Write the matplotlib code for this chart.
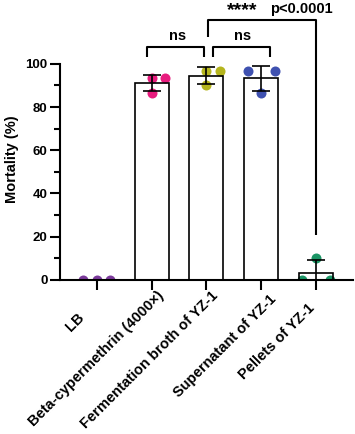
import numpy as np
import matplotlib
matplotlib.use('Agg')
import matplotlib.pyplot as plt
from matplotlib.transforms import ScaledTranslation

plt.rcParams['font.family'] = ['Liberation Sans', 'DejaVu Sans']
plt.rcParams['font.weight'] = 'bold'

# data
groups = ['LB', 'Beta-cypermethrin (4000×)', 'Fermentation broth of YZ-1',
          'Supernatant of YZ-1', 'Pellets of YZ-1']
reps = [[0, 0, 0],
        [93.3, 93.3, 86.7],
        [96.7, 96.7, 90.0],
        [96.7, 96.7, 86.7],
        [10.0, 0, 0]]
dot_colors = ['#7B3A9A', '#E81C7E', '#B5B51E', '#3F51B0', '#1B9565']

# horizontal spread of replicate dots (layout only)
spread = [[-0.25, 0, 0.25], [0, 0.25, 0], [0, 0.25, 0], [-0.25, 0.25, 0], [0, -0.25, 0.25]]
# per-label nudge of the rotated tick labels, in points
label_nudge = [(-14, -13), (3.5, 2.5), (3.5, 2.5), (5.5, 0), (-6, -6)]

means = [np.mean(r) for r in reps]
sds = [np.std(r, ddof=1) for r in reps]
x = np.arange(len(groups))

fig = plt.figure(figsize=(3.55, 4.34), dpi=100)
ax = fig.add_axes([0.169, 0.355, 0.825, 0.498])

for i in x:
    ax.scatter(np.array(spread[i]) + i, reps[i], s=52, color=dot_colors[i],
               zorder=2, linewidths=0)
ax.bar(x, means, width=0.62, facecolor='none', edgecolor='black', linewidth=1.2, zorder=3)
for i in x[1:]:
    ax.errorbar(i, means[i], yerr=sds[i], fmt='none', ecolor='black', elinewidth=1.2,
                capsize=6.5, capthick=1.2, zorder=4)

ax.set_xlim(-0.67, 4.67)
ax.set_ylim(0, 100)
ax.set_yticks(np.arange(0, 101, 20))
ax.set_yticks(np.arange(10, 100, 20), minor=True)
ax.spines['top'].set_visible(False)
ax.spines['right'].set_visible(False)
ax.spines['left'].set_linewidth(1.5)
ax.spines['bottom'].set_linewidth(1.5)
ax.tick_params(axis='both', which='major', length=7, width=1.5, labelsize=9.5, pad=2)
ax.tick_params(axis='y', which='minor', length=4, width=1.5)
ax.set_ylabel('Mortality (%)', fontsize=10.5, fontweight='bold')
ax.yaxis.set_label_coords(-0.14, 0.56)

ax.set_xticks(x)
ax.set_xticklabels(groups, rotation=45, ha='right', va='top', rotation_mode='anchor',
                   fontsize=10.5, fontweight='bold')
for lab, (dx, dy) in zip(ax.get_xticklabels(), label_nudge):
    lab.set_transform(lab.get_transform() + ScaledTranslation(dx / 72, dy / 72, fig.dpi_scale_trans))

# significance brackets
kw = dict(color='black', linewidth=1.5, clip_on=False, solid_capstyle='butt')
ax.plot([0.918, 0.918, 1.959, 1.959], [103.2, 107.9, 107.9, 103.2], **kw)
ax.plot([2.124, 2.124, 3.165, 3.165], [103.2, 107.9, 107.9, 103.2], **kw)
ax.plot([2.033, 2.033, 4.0, 4.0], [112.5, 120.4, 120.4, 20.8], **kw)
ax.text(1.48, 109.8, 'ns', ha='center', va='bottom', fontsize=10.5, fontweight='bold')
ax.text(2.65, 109.8, 'ns', ha='center', va='bottom', fontsize=10.5, fontweight='bold')
ax.text(2.65, 120.8, '****', ha='center', va='bottom', fontsize=14, fontweight='bold')
ax.text(3.73, 122.3, 'p<0.0001', ha='center', va='bottom', fontsize=10.5, fontweight='bold')

fig.savefig('out.png', dpi=100)
